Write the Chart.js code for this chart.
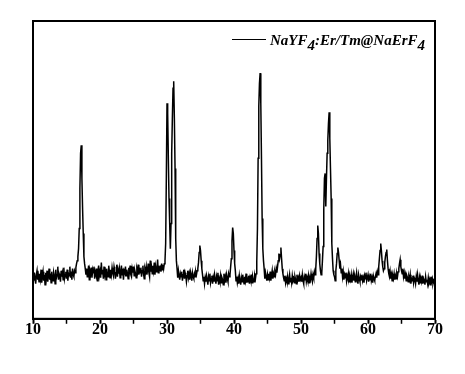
<!DOCTYPE html>
<html>
<head>
<meta charset="utf-8">
<script src="https://cdn.jsdelivr.net/npm/chart.js@4/dist/chart.umd.min.js"></script>
<style>
  html, body { margin: 0; padding: 0; background: #fff; }
  #wrap { width: 465px; height: 374px; }
</style>
</head>
<body>
<div id="wrap"><canvas id="xrd" width="465" height="374"></canvas></div>
<script>
// 2theta grid: 10.0 .. 70.0 step 0.1
const thetaStart = 10;
const thetaStep = 0.1;
const seriesName = "NaYF4:Er/Tm@NaErF4";
// legend text pieces, true = subscript
const legendParts = [["NaYF", false], ["4", true], [":Er/Tm@NaErF", false], ["4", true]];
const xTicks = [10, 20, 30, 40, 50, 60, 70];

// intensity (a.u.), one row per degree
const intensity = [
  42,38,46,40,35,44,48,39,43,37,
  45,40,49,36,42,47,38,44,34,46,
  41,48,37,43,50,39,45,36,47,42,
  38,46,43,35,49,41,44,52,39,45,
  43,37,48,42,46,39,51,40,44,47,
  40,49,38,45,43,52,41,47,39,50,
  44,42,48,46,51,55,58,62,70,90,
  130,165,173,140,110,85,62,55,50,44,
  50,42,47,53,39,48,45,51,41,49,
  46,52,40,47,44,50,38,48,53,43,
  47,41,56,45,49,40,52,44,47,39,
  50,45,42,53,47,41,49,44,51,46,
  43,52,48,40,46,54,42,49,45,50,
  41,47,53,44,50,39,48,46,52,43,
  49,45,40,51,47,53,44,42,50,46,
  52,43,48,45,41,50,47,54,44,49,
  46,51,42,48,53,45,40,50,47,52,
  44,49,55,46,42,58,47,51,45,53,
  48,56,44,52,47,50,59,46,53,49,
  51,47,55,49,54,50,55,58,75,140,
  215,205,160,120,95,70,95,165,200,230,
  237,200,150,80,58,50,41,48,43,39,
  45,42,47,38,44,49,40,46,43,37,
  43,48,41,45,39,47,44,38,46,42,
  40,45,42,47,44,48,50,56,66,73,
  68,58,50,44,38,42,35,41,37,43,
  39,34,42,38,45,36,40,43,35,41,
  37,44,39,35,42,38,46,34,40,37,
  43,36,41,39,34,45,38,42,36,44,
  40,37,45,42,44,52,60,78,91,85,
  68,55,48,38,42,36,40,35,43,38,
  34,41,37,44,39,35,42,38,45,36,
  40,37,43,35,41,38,44,36,42,39,
  37,43,40,45,58,90,160,212,235,245,
  215,160,100,70,58,50,40,46,42,38,
  44,39,45,41,47,38,43,48,40,45,
  42,47,44,50,46,52,58,65,60,64,
  71,60,50,45,41,38,43,36,40,37,
  42,35,39,44,37,41,36,43,38,40,
  36,42,39,35,44,38,41,37,43,39,
  41,37,44,38,35,42,39,45,37,41,
  38,43,36,41,39,45,40,37,44,41,
  47,44,50,62,80,93,85,65,55,48,
  44,46,58,72,110,140,145,112,140,165,
  178,195,206,180,150,120,75,60,48,44,
  42,38,48,55,65,71,66,58,50,54,
  46,50,42,47,39,44,41,46,38,43,
  40,45,37,42,39,44,36,41,45,38,
  43,37,41,46,39,35,44,40,37,42,
  39,44,38,41,36,43,40,46,38,41,
  44,37,42,39,45,38,41,36,43,40,
  38,42,45,41,47,44,52,60,68,75,
  68,58,52,48,50,56,62,66,69,58,
  50,45,42,47,40,44,38,43,40,45,
  39,43,40,45,42,47,50,55,59,52,
  48,45,50,42,46,40,44,38,43,41,
  37,42,39,44,35,40,38,43,36,41,
  39,35,42,37,44,38,34,41,36,40,
  37,43,35,40,38,34,42,37,39,35,
  41,36,39,34,42,37,40,35,38,36,
  39
];

const points = intensity.map((v, i) => ({ x: +(thetaStart + i * thetaStep).toFixed(1), y: v }));

// box round the plot area
const frame = {
  id: "frame",
  afterDraw(chart) {
    const a = chart.chartArea;
    const c = chart.ctx;
    c.save();
    c.strokeStyle = "#000";
    c.lineWidth = 2;
    c.strokeRect(a.left, a.top, a.right - a.left, a.bottom - a.top);
    c.restore();
  }
};

// legend inside the plot, top right, with subscripts
const innerLegend = {
  id: "innerLegend",
  afterDraw(chart) {
    const a = chart.chartArea;
    const c = chart.ctx;
    const font = "italic bold 15px 'Liberation Serif', 'Times New Roman', serif";
    c.save();
    c.font = font;
    let total = 0;
    legendParts.forEach(([t]) => (total += c.measureText(t).width));
    const right = a.right - 10;
    const baseY = a.top + 24;
    let x = right - total;
    c.strokeStyle = chart.data.datasets[0].borderColor;
    c.lineWidth = 1;
    c.beginPath();
    c.moveTo(x - 38, baseY - 5.5);
    c.lineTo(x - 4, baseY - 5.5);
    c.stroke();
    c.fillStyle = "#000";
    c.textBaseline = "alphabetic";
    legendParts.forEach(([t, sub]) => {
      c.fillText(t, x, sub ? baseY + 5 : baseY);
      x += c.measureText(t).width;
    });
    c.restore();
  }
};

new Chart(document.getElementById("xrd"), {
  type: "line",
  data: {
    datasets: [{
      label: seriesName,
      data: points,
      borderColor: "#000",
      backgroundColor: "#000",
      borderWidth: 1.5,
      pointRadius: 0,
      tension: 0
    }]
  },
  options: {
    responsive: false,
    animation: false,
    layout: { padding: { left: 33, right: 30, top: 21, bottom: 39 } },
    plugins: {
      tooltip: { enabled: false },
      legend: { display: false }
    },
    scales: {
      x: {
        type: "linear",
        min: 10,
        max: 70,
        grid: {
          display: true,
          drawOnChartArea: false,
          drawTicks: true,
          tickLength: 5,
          tickColor: "#000",
          tickWidth: (ctx) => (ctx.tick && ctx.tick.value % 10 === 0 ? 2 : 1.5)
        },
        border: { display: true, color: "#000", width: 2 },
        ticks: {
          stepSize: 5,
          color: "#000",
          padding: -4,
          maxRotation: 0,
          autoSkip: false,
          font: { family: "'Liberation Serif', 'Times New Roman', serif", size: 16, weight: "bold" },
          callback: (v) => (xTicks.includes(v) ? String(v) : "")
        }
      },
      y: {
        display: false,
        min: 0,
        max: 297
      }
    }
  },
  plugins: [frame, innerLegend]
});
</script>
</body>
</html>
